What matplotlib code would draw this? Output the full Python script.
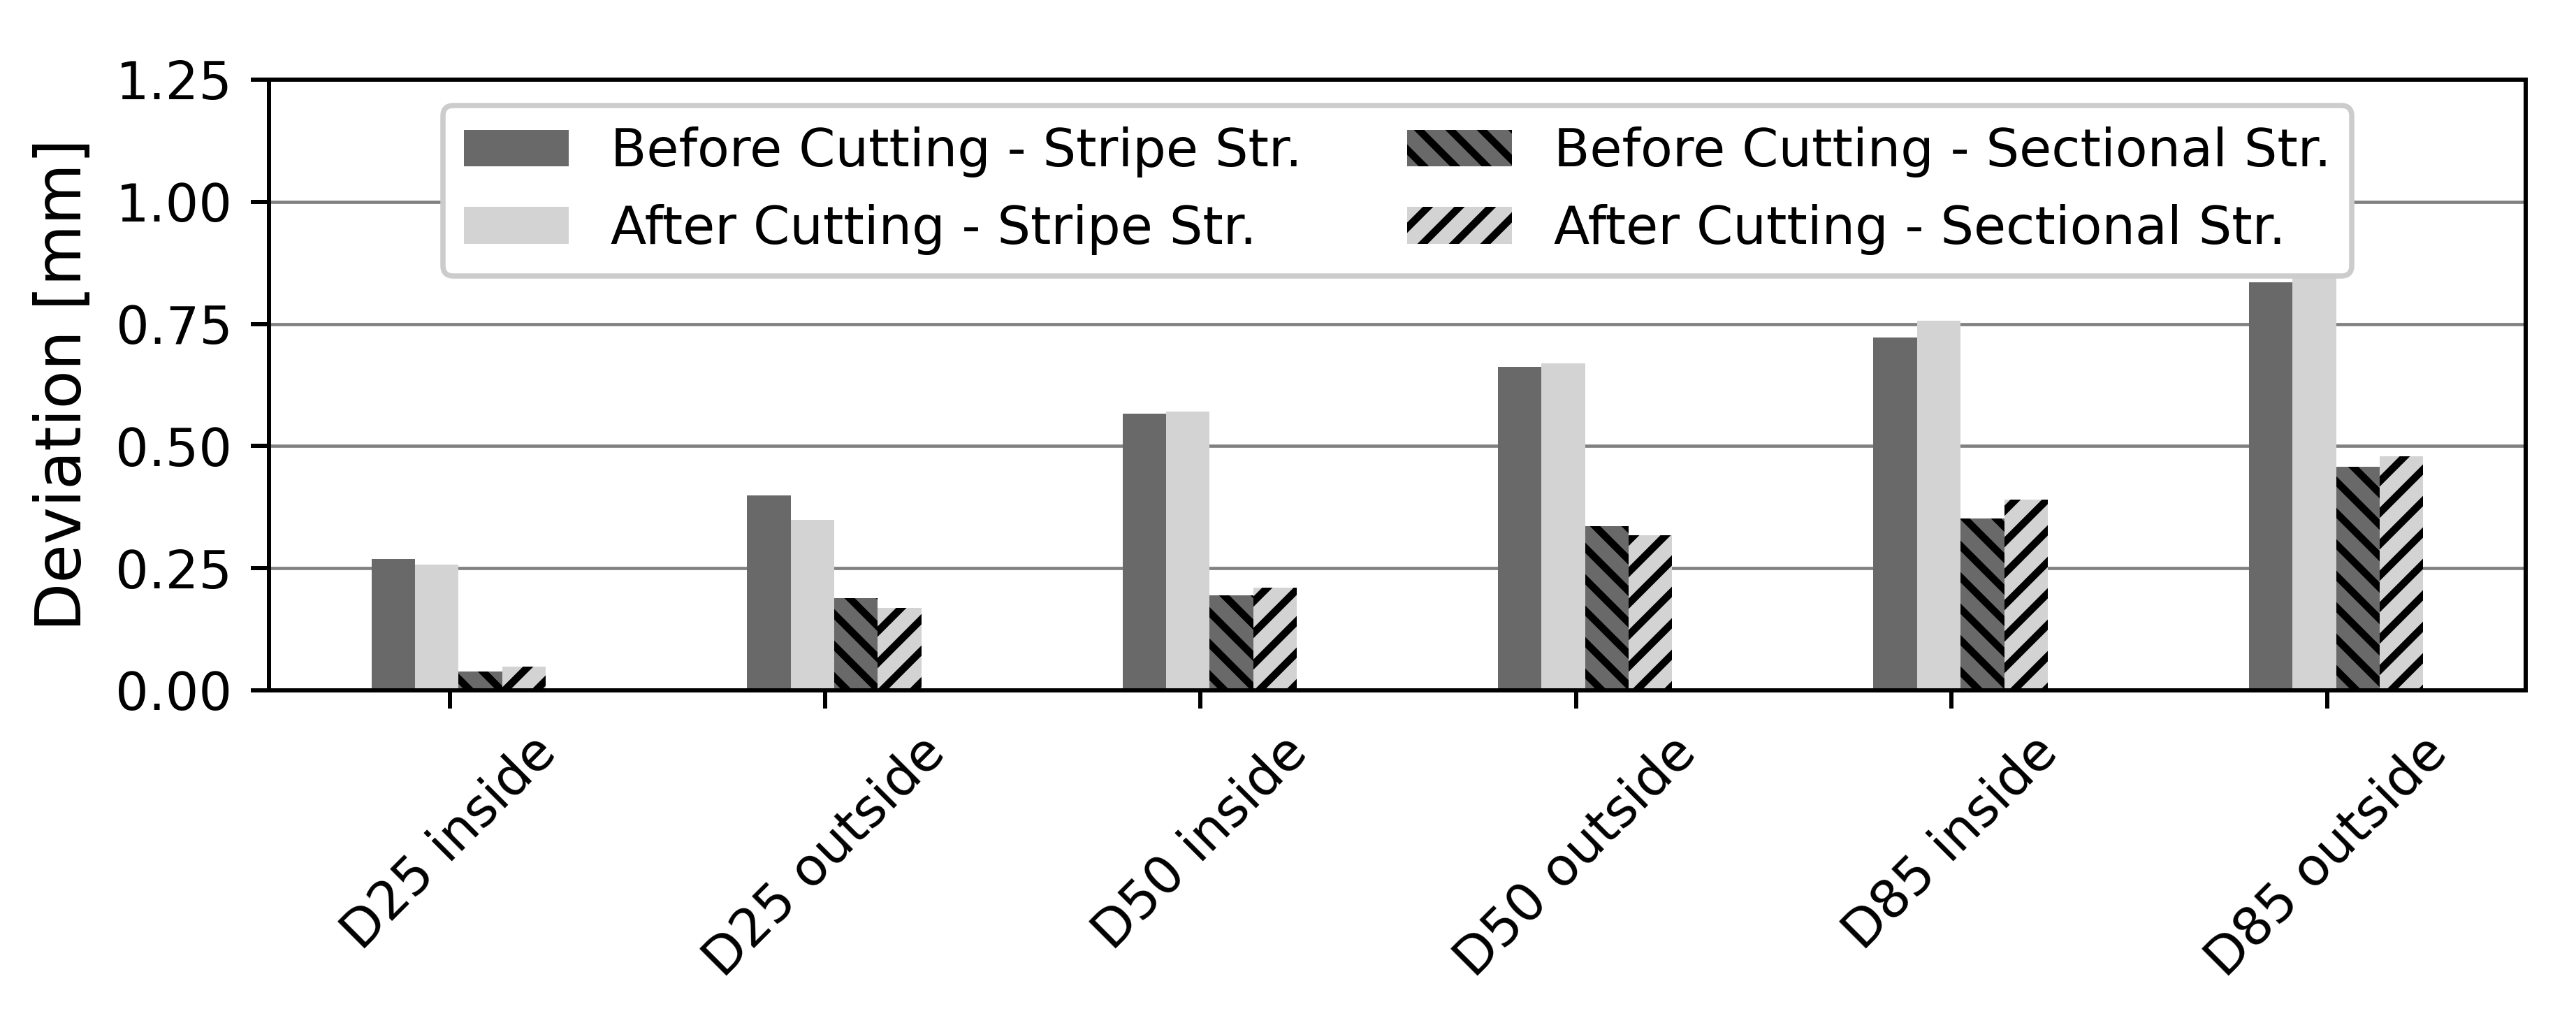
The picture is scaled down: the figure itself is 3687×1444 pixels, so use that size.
import matplotlib
matplotlib.use("Agg")
import matplotlib.pyplot as plt
import numpy as np

categories = ["D25 inside", "D25 outside", "D50 inside", "D50 outside", "D85 inside", "D85 outside"]
before_stripe = [0.269, 0.399, 0.567, 0.662, 0.722, 0.835]
after_stripe = [0.258, 0.349, 0.571, 0.669, 0.757, 0.870]
before_sectional = [0.039, 0.189, 0.194, 0.336, 0.352, 0.457]
after_sectional = [0.048, 0.169, 0.210, 0.318, 0.390, 0.479]
series_labels = ["Before Cutting - Stripe Str.", "After Cutting - Stripe Str.",
                 "Before Cutting - Sectional Str.", "After Cutting - Sectional Str."]

plt.rcParams["font.family"] = ["DejaVu Sans"]
plt.rcParams["hatch.linewidth"] = 1.4
plt.rcParams["hatch.color"] = "black"

fig = plt.figure(figsize=(3687 / 540, 1444 / 540), dpi=540)
ax = fig.add_axes([0.1044, 0.3158, 0.9805 - 0.1044, 0.9211 - 0.3158])

x = np.arange(len(categories))
w = 0.116
series = [before_stripe, after_stripe, before_sectional, after_sectional]
colors = ["#696969", "#d3d3d3", "#696969", "#d3d3d3"]
hatches = [None, None, "\\\\\\\\", "////"]
for i, (vals, c, h, lab) in enumerate(zip(series, colors, hatches, series_labels)):
    ax.bar(x - 0.15 + i * w, vals, width=w, color=c, hatch=h, edgecolor="black",
           linewidth=0, label=lab, zorder=2)

ax.set_ylim(0, 1.25)
ax.set_yticks([0, 0.25, 0.5, 0.75, 1.0, 1.25])
ax.set_yticklabels(["0.00", "0.25", "0.50", "0.75", "1.00", "1.25"], fontsize=10)
ax.set_xticks(x)
ax.set_xticklabels(categories, rotation=45, ha="center", fontsize=10)
ax.set_ylabel("Deviation [mm]", fontsize=12)
ax.yaxis.grid(True, color="#808080", linewidth=0.62, zorder=0)
ax.set_axisbelow(True)

leg = ax.legend(loc="upper center", ncol=2, fontsize=10, framealpha=1)

fig.savefig("out.png", dpi=540)
